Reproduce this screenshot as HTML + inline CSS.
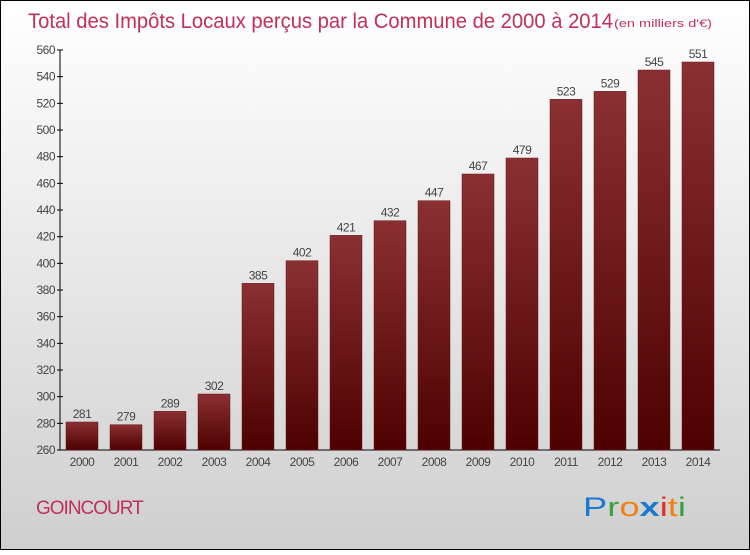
<!DOCTYPE html>
<html><head><meta charset="utf-8"><style>
body{margin:0;width:750px;height:550px;overflow:hidden;font-family:"Liberation Sans",sans-serif}
</style></head><body>
<svg width="750" height="550" xmlns="http://www.w3.org/2000/svg">
<defs>
<linearGradient id="bg" x1="0" y1="0" x2="0" y2="1"><stop offset="0" stop-color="#ffffff"/><stop offset="1" stop-color="#cfcfcf"/></linearGradient>
<linearGradient id="bar" x1="0" y1="0" x2="0" y2="1"><stop offset="0" stop-color="#8a3033"/><stop offset="1" stop-color="#4e0000"/></linearGradient>
</defs>
<rect x="0.5" y="0.5" width="749" height="549" fill="url(#bg)" stroke="#000"/>
<text x="28" y="28" font-size="21" fill="#c0305a" textLength="585" lengthAdjust="spacingAndGlyphs">Total des Impôts Locaux perçus par la Commune de 2000 à 2014</text>
<text x="614" y="27" font-size="11" fill="#c0305a" textLength="98" lengthAdjust="spacingAndGlyphs">(en milliers d'€)</text>
<g id="axes"></g>
<g id="bars"></g>
<text x="36" y="514" font-size="19" fill="#c0305a" letter-spacing="-1">GOINCOURT</text>
<g font-size="27" font-family="'Liberation Sans',sans-serif">
<text x="583" y="516" textLength="103" lengthAdjust="spacingAndGlyphs"><tspan fill="#1a7ad0">P</tspan><tspan fill="#3aa040">r</tspan><tspan fill="#f08010">o</tspan><tspan fill="#1a7ad0" font-weight="bold">x</tspan><tspan fill="#e03020">i</tspan><tspan fill="#f08010">t</tspan><tspan fill="#3aa040">i</tspan></text>
</g>
</svg>
<script>
const years=["2000","2001","2002","2003","2004","2005","2006","2007","2008","2009","2010","2011","2012","2013","2014"];
const values=[281,279,289,302,385,402,421,432,447,467,479,523,529,545,551];
const yTicks=[260,280,300,320,340,360,380,400,420,440,460,480,500,520,540,560];
const NS="http://www.w3.org/2000/svg";
const y=v=>450-(v-260)*400/300;
const x=i=>82+i*44;
const ax=document.getElementById('axes'),bg=document.getElementById('bars');
function mk(t,a,p){const e=document.createElementNS(NS,t);for(const k in a)e.setAttribute(k,a[k]);p.appendChild(e);return e;}
let l=mk('line',{x1:60,y1:50,x2:60,y2:450,stroke:'#000'},ax);


l=mk('line',{x1:60,y1:450,x2:720,y2:450,stroke:'#000'},ax);


yTicks.forEach(v=>{
 mk('line',{x1:57,y1:y(v),x2:63,y2:y(v),stroke:'#000'},ax);
 const t=mk('text',{x:55,y:y(v)+4,'text-anchor':'end','font-size':12,fill:'#444','letter-spacing':'-0.5'},ax);
 t.textContent=v;
 
 
});
years.forEach((yr,i)=>{
 const r=mk('rect',{x:x(i)-16,y:y(values[i]),width:32,height:450-y(values[i]),fill:'url(#bar)',stroke:'#6a1a1a','stroke-width':0.5},bg);
 
 
 const v=mk('text',{x:x(i),y:y(values[i])-4,'text-anchor':'middle','font-size':12,fill:'#444','letter-spacing':'-0.5'},bg);
 v.textContent=values[i];
 
 
 const t=mk('text',{x:x(i),y:466,'text-anchor':'middle','font-size':12,fill:'#444','letter-spacing':'-0.5'},bg);
 t.textContent=yr;
 
 
});
</script>
</body></html>
